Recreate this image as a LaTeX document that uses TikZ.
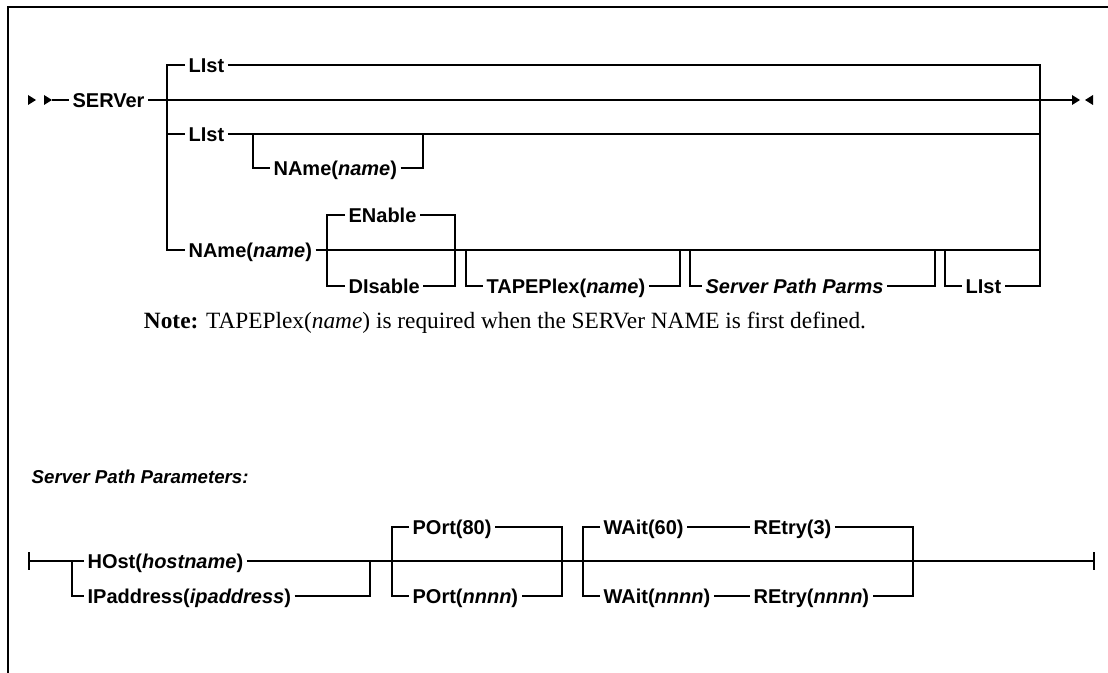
\documentclass[tikz,border=0pt]{standalone}
\usepackage{fontspec}
\setmainfont{Liberation Serif}
\setsansfont{Liberation Sans}

\begin{document}
\begin{tikzpicture}[
    x=0.75pt, y=-0.75pt,
    rail/.style={line width=1.3pt},
    kw/.style={font=\fontsize{15}{17}\selectfont\sffamily\bfseries, anchor=west,
        inner xsep=2.5pt, inner ysep=0pt, text height=11.5pt, text depth=0pt},
    ttl/.style={font=\fontsize{14}{16}\selectfont\sffamily\bfseries\itshape, anchor=west},
    note/.style={font=\fontsize{17.5}{21}\selectfont\rmfamily}
]
\useasboundingbox (0,0) rectangle (1108,673);

% Frame
\draw[rail] (8,673) -- (8,7) -- (1108,7);

% SERVer
\fill (28,95) -- (36,100) -- (28,105) -- cycle;
\fill (44,95) -- (52,100) -- (44,105) -- cycle;
\coordinate (start) at (52,100);
\node[kw] (server) at (69,100) {SERVer};
\coordinate (mainend) at (1072,100);
\draw[rail] (start) -- (server.west);
\draw[rail] (server.east) -- (mainend);
\fill (1072,95) -- (1080,100) -- (1072,105) -- cycle;
\fill (1093,95) -- (1085,100) -- (1093,105) -- cycle;

% Choices
\node[kw] (list1) at (185,65) {LIst};
\node[kw] (list2) at (185,134) {LIst};
\node[kw] (nmopt) at (270,168) {NAme(\textit{name})};
\node[kw] (nmdef) at (185,250) {NAme(\textit{name})};
\node[kw] (enab) at (345,215) {ENable};
\node[kw] (disab) at (345,286) {DIsable};
\node[kw] (tplex) at (483,286) {TAPEPlex(\textit{name})};
\node[kw] (spp) at (702,286) {\itshape Server Path Parms};
\node[kw] (list3) at (962,286) {LIst};

\coordinate (jl) at (167,250);
\coordinate (jr) at (1040,286);
\draw[rail] (list1.west) -| (jl) -- (nmdef.west);
\draw[rail] (list2.west -| jl) -- (list2.west);
\draw[rail] (list1.east) -| (jr) -- (list3.east);
\draw[rail] (list2.east) -- (list2.east -| jr);
\draw[rail] (nmdef.east) -- (nmdef.east -| jr);

% optional NAme under LIst
\coordinate (nl) at (253,134);
\coordinate (nr) at (423,134);
\draw[rail] (nl) |- (nmopt.west);
\draw[rail] (nmopt.east) -| (nr);

% ENable / DIsable
\coordinate (el) at (327,250);
\coordinate (er) at (455,250);
\draw[rail] (enab.west) -| (el) |- (disab.west);
\draw[rail] (enab.east) -| (er) |- (disab.east);

% optional items
\coordinate (tl) at (466,250);
\coordinate (tr) at (680,250);
\draw[rail] (tl) |- (tplex.west);
\draw[rail] (tplex.east) -| (tr);
\coordinate (sl) at (690,250);
\coordinate (sr) at (935,250);
\draw[rail] (sl) |- (spp.west);
\draw[rail] (spp.east) -| (sr);
\coordinate (ll) at (945,250);
\draw[rail] (ll) |- (list3.west);

% Note
\node[note] (notetxt) at (505,323) {\textbf{Note:} TAPEPlex(\textit{name}) is required when the SERVer NAME is first defined.};

% Server Path Parameters
\node[ttl] (sppttl) at (27,477) {Server Path Parameters:};

\coordinate (bstart) at (29,561);
\coordinate (bend) at (1094,561);
\draw[rail] ([yshift=6.5pt]bstart) -- ([yshift=-6.5pt]bstart);
\draw[rail] ([yshift=6.5pt]bend) -- ([yshift=-6.5pt]bend);

\node[kw] (host) at (84,561) {HOst(\textit{hostname})};
\node[kw] (ipaddr) at (84,596) {IPaddress(\textit{ipaddress})};
\coordinate (hl) at (72,561);
\coordinate (hr) at (370,561);
\draw[rail] (bstart) -- (host.west);
\draw[rail] (hl) |- (ipaddr.west);
\draw[rail] (host.east) -- (hr);
\draw[rail] (ipaddr.east) -| (hr);
\draw[rail] (hr) -- (bend);

% POrt
\node[kw] (port80) at (409,527) {POrt(80)};
\node[kw] (portn) at (409,596) {POrt(\textit{nnnn})};
\coordinate (pl) at (392,561);
\coordinate (pr) at (562,561);
\draw[rail] (port80.west) -| (pl) |- (portn.west);
\draw[rail] (port80.east) -| (pr) |- (portn.east);

% WAit / REtry
\node[kw] (wait60) at (600,527) {WAit(60)};
\node[kw] (retry3) at (750,527) {REtry(3)};
\node[kw] (waitn) at (600,596) {WAit(\textit{nnnn})};
\node[kw] (retryn) at (750,596) {REtry(\textit{nnnn})};
\coordinate (wl) at (583,561);
\coordinate (wr) at (913,561);
\draw[rail] (wait60.west) -| (wl) |- (waitn.west);
\draw[rail] (wait60.east) -- (retry3.west);
\draw[rail] (waitn.east) -- (retryn.west);
\draw[rail] (retry3.east) -| (wr) |- (retryn.east);

\end{tikzpicture}
\end{document}
